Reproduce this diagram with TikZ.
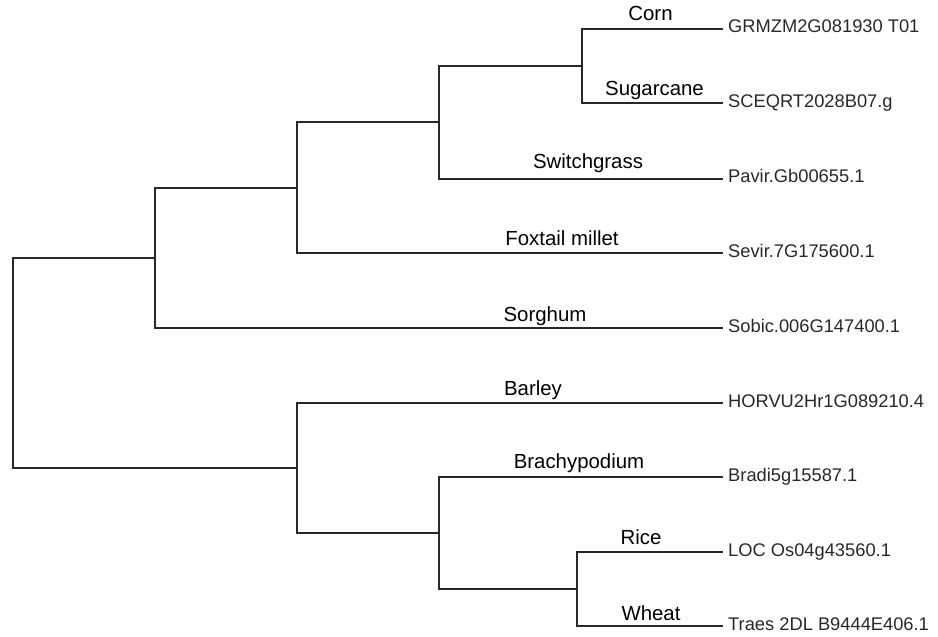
\documentclass[tikz,border=0pt]{standalone}
\usepackage{fontspec}
\setmainfont{Liberation Sans}
\definecolor{brgray}{RGB}{40,40,40}
\tikzset{
  br/.style={draw=brgray,line width=2pt},
  sp/.style={anchor=base,inner sep=0pt,font=\fontsize{20.4}{24}\selectfont},
  gid/.style={anchor=base west,inner sep=0pt,text=brgray,font=\fontsize{18.3}{22}\selectfont},
}
\begin{document}
\begin{tikzpicture}[x=1pt,y=-1pt]
\useasboundingbox (0,0) rectangle (938,637);
\coordinate (l_corn) at (723,28.5);
\coordinate (l_sug) at (723,102.5);
\coordinate (l_swi) at (723,178.5);
\coordinate (l_fox) at (723,253);
\coordinate (l_sor) at (723,328);
\coordinate (l_bar) at (723,403);
\coordinate (l_bra) at (723,477);
\coordinate (l_rice) at (723,552);
\coordinate (l_wheat) at (723,626);
\coordinate (j_cs) at (581.5,65.5);
\coordinate (j_csw) at (439,122);
\coordinate (j_fox) at (297,187.5);
\coordinate (j_sor) at (154.5,257.75);
\coordinate (j_rw) at (577,589);
\coordinate (j_bra) at (438.5,533);
\coordinate (j_bar) at (297,468);
\coordinate (j_root) at (12.5,363);
\draw[br] (l_corn) -| (j_cs) |- (l_sug);
\draw[br] (j_cs) -| (j_csw) |- (l_swi);
\draw[br] (j_csw) -| (j_fox) |- (l_fox);
\draw[br] (j_fox) -| (j_sor) |- (l_sor);
\draw[br] (l_wheat) -| (j_rw) |- (l_rice);
\draw[br] (l_bra) -| (j_bra) |- (j_rw);
\draw[br] (l_bar) -| (j_bar) |- (j_bra);
\draw[br] (j_sor) -| (j_root) |- (j_bar);
\node[sp] (s_corn) at (650.5,20.5) {Corn};
\node[sp] (s_sug) at (654.5,95) {Sugarcane};
\node[sp] (s_swi) at (588,168) {Switchgrass};
\node[sp] (s_fox) at (562,245) {Foxtail millet};
\node[sp] (s_sor) at (545,321) {Sorghum};
\node[sp] (s_bar) at (533,395) {Barley};
\node[sp] (s_bra) at (579,468) {Brachypodium};
\node[sp] (s_rice) at (641,544) {Rice};
\node[sp] (s_wheat) at (651,620) {Wheat};
\node[gid] (g_corn) at (728,32.5) {GRMZM2G081930 T01};
\node[gid] (g_sug) at (728,107) {SCEQRT2028B07.g};
\node[gid] (g_swi) at (728,182.5) {Pavir.Gb00655.1};
\node[gid] (g_fox) at (728,257) {Sevir.7G175600.1};
\node[gid] (g_sor) at (728,332) {Sobic.006G147400.1};
\node[gid] (g_bar) at (728,407) {HORVU2Hr1G089210.4};
\node[gid] (g_bra) at (728,481) {Bradi5g15587.1};
\node[gid] (g_rice) at (728,556) {LOC Os04g43560.1};
\node[gid] (g_wheat) at (728,630) {Traes 2DL B9444E406.1};
\end{tikzpicture}
\end{document}
